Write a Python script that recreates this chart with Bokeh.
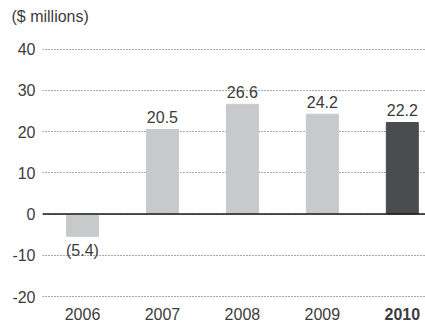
from bokeh.plotting import figure
from bokeh.models import Range1d, FixedTicker, Span, ColumnDataSource
from bokeh.core.properties import value
from bokeh.embed import file_html
from bokeh.resources import INLINE

# ---- data ----
years = ["2006", "2007", "2008", "2009", "2010"]
income = [-5.4, 20.5, 26.6, 24.2, 22.2]
bar_colors = ["#c8c9cb", "#c8c9cb", "#c8c9cb", "#c8c9cb", "#4b4c4e"]
y_ticks = [-20, -10, 0, 10, 20, 30, 40]
y_tick_labels = ["-20", "-10", "0", "10", "20", "30", "40"]
title_text = "($ millions)"

FONT = "Liberation Sans"
TXT = "#3c3c3c"

idx = list(range(len(years)))
labels = [("(%.1f)" % abs(v)) if v < 0 else ("%.1f" % v) for v in income]

p = figure(width=425, height=322, output_backend="svg", toolbar_location=None,
           x_range=Range1d(-0.5, 4.29), y_range=Range1d(-26.3, 44.5),
           x_axis_location=None, min_border_left=42, min_border_right=0,
           min_border_top=30, min_border_bottom=0, title=title_text)

p.outline_line_color = None
p.background_fill_color = "white"
p.border_fill_color = "white"

p.title.align = "left"
p.title.offset = -31
p.title.text_font = FONT
p.title.text_font_size = "16px"
p.title.text_font_style = "normal"
p.title.text_color = TXT
p.title.standoff = 11

p.xgrid.visible = False
p.ygrid.ticker = FixedTicker(ticks=y_ticks)
p.ygrid.grid_line_color = "#555555"
p.ygrid.grid_line_dash = "1 2"
p.ygrid.grid_line_width = 1

ax = p.yaxis[0]
ax.ticker = FixedTicker(ticks=y_ticks)
ax.major_label_overrides = {t: s for t, s in zip(y_ticks, y_tick_labels)}
ax.axis_line_color = None
ax.major_tick_line_color = None
ax.minor_tick_line_color = None
ax.major_tick_out = 0
ax.major_tick_in = 0
ax.major_label_standoff = 7
ax.major_label_text_font = FONT
ax.major_label_text_font_size = "16px"
ax.major_label_text_color = TXT

pos = [i for i, v in zip(idx, income) if v >= 0]
neg = [i for i, v in zip(idx, income) if v < 0]

src = ColumnDataSource(dict(x=idx, top=income, color=bar_colors, lab=labels,
                            year=years,
                            yb=[y_ticks[0]] * len(years),
                            style=["bold" if y == years[-1] else "normal" for y in years]))

p.vbar(x="x", top="top", bottom=0, width=0.4, color="color", source=src)

p.add_layout(Span(location=0, dimension="width", line_color="#1a1a1a", line_width=1.5))

src_pos = ColumnDataSource(dict(x=[idx[i] for i in pos], y=[income[i] for i in pos],
                                lab=[labels[i] for i in pos]))
src_neg = ColumnDataSource(dict(x=[idx[i] for i in neg], y=[income[i] for i in neg],
                                lab=[labels[i] for i in neg]))

p.text(x="x", y="y", text="lab", source=src_pos, text_align="center",
       text_baseline="middle", y_offset=-12, text_font=value(FONT),
       text_font_size="16px", text_color=TXT)
p.text(x="x", y="y", text="lab", source=src_neg, text_align="center",
       text_baseline="middle", y_offset=14, text_font=value(FONT),
       text_font_size="16px", text_color=TXT)

p.text(x="x", y="yb", text="year", source=src, text_align="center",
       text_baseline="middle", y_offset=17, text_font=value(FONT),
       text_font_size="16px", text_color=TXT, text_font_style="style")

open("out.html", "w").write(file_html(p, INLINE))
